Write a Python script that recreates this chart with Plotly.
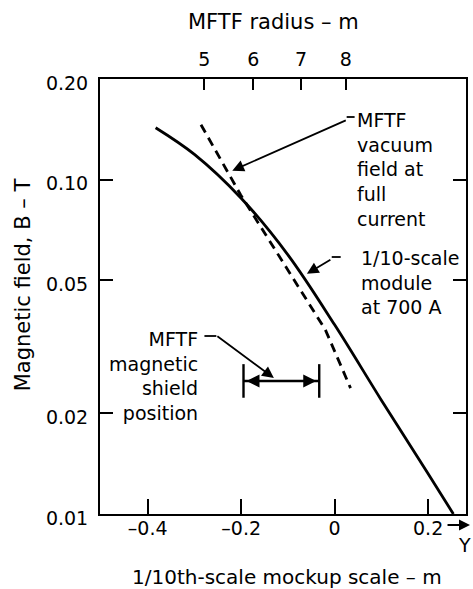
import numpy as np
import plotly.graph_objects as go

# 1/10-scale module at 700 A (solid curve): mockup position (m) vs field (T)
module_x = [-0.383, -0.300, -0.200, -0.100, 0.000, 0.100, 0.200, 0.254]
module_b = [0.143, 0.119, 0.088, 0.0596, 0.0368, 0.0219, 0.0132, 0.010]

# MFTF vacuum field at full current (dashed curve)
vacuum_x = [-0.286, -0.201, -0.020, 0.034]
vacuum_b = [0.146, 0.0900, 0.0356, 0.0238]

# MFTF magnetic shield position (span on the mockup scale)
shield_x = [-0.195, -0.033]
shield_b = 0.025

# axes
x_range = [-0.502, 0.281]
x_ticks = [-0.4, -0.2, 0, 0.2]
x_ticktext = ["\u20130.4", "\u20130.2", "0", "0.2"]
b_ticks = [0.01, 0.02, 0.05, 0.1, 0.2]
b_ticktext = ["0.01", "0.02", "0.05", "0.10", "0.20"]
radius_labels = ["5", "6", "7", "8"]
radius_pos = [-0.279, -0.174, -0.072, 0.024]

FONT = "DejaVu Sans"
INK = "black"

fig = go.Figure()
fig.add_trace(go.Scatter(x=module_x, y=module_b, mode="lines",
                         line=dict(color=INK, width=2.8, shape="spline", smoothing=1.0),
                         hoverinfo="skip", showlegend=False))
fig.add_trace(go.Scatter(x=vacuum_x, y=vacuum_b, mode="lines",
                         line=dict(color=INK, width=2.8, dash="9px,6px"),
                         hoverinfo="skip", showlegend=False))
fig.add_trace(go.Scatter(x=shield_x, y=[shield_b, shield_b], mode="lines+markers",
                         line=dict(color=INK, width=2.4),
                         marker=dict(symbol="line-ns-open", size=24,
                                     line=dict(color=INK, width=2.4)),
                         hoverinfo="skip", showlegend=False))
# invisible trace to activate the top (MFTF radius) axis
fig.add_trace(go.Scatter(x=radius_pos, y=[0.2] * 4, xaxis="x2", mode="markers",
                         marker=dict(opacity=0), hoverinfo="skip", showlegend=False))

ann = []
# shield span arrowheads pointing outward
mid = sum(shield_x) / 2
ly = np.log10(shield_b)
for end in shield_x:
    ann.append(dict(x=end, y=ly, ax=mid, ay=ly, xref="x", yref="y", axref="x", ayref="y",
                    text="", showarrow=True, arrowhead=2, arrowsize=1.3, arrowwidth=2,
                    arrowcolor=INK, standoff=3))

def leader(x, b, dx, dy):
    return dict(x=x, y=np.log10(b), xref="x", yref="y", ax=dx, ay=dy, text="",
                showarrow=True, arrowhead=2, arrowsize=1.3, arrowwidth=1.8,
                arrowcolor=INK, standoff=0, startstandoff=0)

ann.append(leader(-0.219, 0.1064, 115, -51))
ann.append(leader(-0.0594, 0.0523, 25, -15))
ann.append(leader(-0.130, 0.0255, -58, -43))

def label(txt, x, y, xanchor, align):
    return dict(text=txt, x=x, y=y, xref="paper", yref="paper", xanchor=xanchor,
                yanchor="middle", align=align, showarrow=False,
                font=dict(family=FONT, size=19, color=INK))

ann.append(label("MFTF<br>vacuum<br>field at<br>full<br>current", 0.698, 0.793, "left", "left"))
ann.append(label("1/10-scale<br>module<br>at 700 A", 0.707, 0.533, "left", "left"))
ann.append(label("MFTF<br>magnetic<br>shield<br>position", 0.272, 0.318, "right", "right"))

# axis titles
ann.append(dict(text="MFTF radius \u2013 m", x=0.473, y=1.131, xref="paper", yref="paper",
                xanchor="center", yanchor="middle", showarrow=False,
                font=dict(family=FONT, size=21, color=INK)))
ann.append(dict(text="1/10th-scale mockup scale \u2013 m", x=0.511, y=-0.145, xref="paper",
                yref="paper", xanchor="center", yanchor="middle", showarrow=False,
                font=dict(family=FONT, size=20, color=INK)))
ann.append(dict(text="Magnetic field, B \u2013 T", x=-0.21, y=0.526, xref="paper",
                yref="paper", xanchor="center", yanchor="middle", textangle=-90,
                showarrow=False, font=dict(family=FONT, size=21, color=INK)))
# direction marker at the right end of the mockup axis
ann.append(dict(x=1.011, y=-0.0253, xref="paper", yref="paper", ax=-24, ay=0, text="",
                showarrow=True, arrowhead=2, arrowsize=1.0, arrowwidth=2.2, arrowcolor=INK,
                standoff=0, startstandoff=0))
ann.append(dict(text="Y", x=0.995, y=-0.071, xref="paper", yref="paper", xanchor="center",
                yanchor="middle", showarrow=False, font=dict(family=FONT, size=19, color=INK)))

# short horizontal leader stubs next to the labels
shapes = [
    dict(type="line", xref="paper", yref="paper", x0=(348 - 100) / 368, x1=(356 - 100) / 368,
         y0=(514 - 117) / 435, y1=(514 - 117) / 435, line=dict(color=INK, width=1.8)),
    dict(type="line", xref="paper", yref="paper", x0=(333 - 100) / 368, x1=(342 - 100) / 368,
         y0=(514 - 257) / 435, y1=(514 - 257) / 435, line=dict(color=INK, width=1.8)),
    dict(type="line", xref="paper", yref="paper", x0=(205 - 100) / 368, x1=(217 - 100) / 368,
         y0=(514 - 336) / 435, y1=(514 - 336) / 435, line=dict(color=INK, width=1.8)),
]

axis_font = dict(family=FONT, size=19, color=INK)
fig.update_layout(
    width=473, height=589,
    margin=dict(l=100, r=5, t=79, b=75),
    paper_bgcolor="white", plot_bgcolor="white",
    font=dict(family=FONT, color=INK),
    annotations=ann, shapes=shapes,
    xaxis=dict(range=x_range, tickvals=x_ticks, ticktext=x_ticktext, ticks="inside",
               ticklen=15, tickwidth=2, tickcolor=INK, showline=True, linewidth=2,
               linecolor=INK, mirror=True, showgrid=False, zeroline=False,
               ticklabelstandoff=-4, tickfont=axis_font),
    xaxis2=dict(range=x_range, overlaying="x", side="top", tickvals=radius_pos,
                ticktext=radius_labels, ticks="inside", ticklen=11, tickwidth=2,
                tickcolor=INK, showline=False, showgrid=False, zeroline=False,
                ticklabelstandoff=8, tickfont=axis_font),
    yaxis=dict(type="log", range=[-2, np.log10(0.2)], tickvals=b_ticks, ticktext=b_ticktext,
               ticks="inside", ticklen=13, tickwidth=2, tickcolor=INK, showline=True,
               linewidth=2, linecolor=INK, mirror="ticks", showgrid=False, zeroline=False,
               ticklabelstandoff=6, ticklabelshift=4, tickfont=axis_font),
)

fig.write_html("out.html")
